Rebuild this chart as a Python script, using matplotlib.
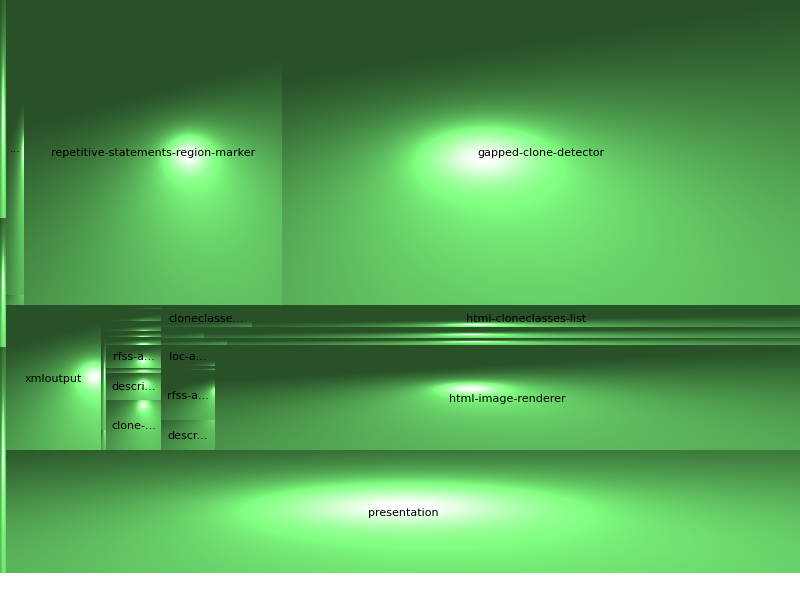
import matplotlib

matplotlib.use("Agg")

import matplotlib.pyplot as plt
import numpy as np


CANVAS_W, CANVAS_H = 800, 600
MAP_W, MAP_H = 800, 573

# leaf sizes per package
side_sizes = [1308, 774, 1356]

marker_labels = ["...", ""]
marker_sizes = [5310, 180]
rsrm_size = 78690
gcd_size = 157990

xml_size = 13775
xml_side_sizes = [625, 100]

col3_labels = ["", "", "", "", "", "rfss-a...", "", "descri...", "clone-..."]
col3_sizes = [220, 660, 550, 330, 440, 1265, 275, 1485, 2750]

cl_row0_size = 2556
cl_row1_labels = ["cloneclasse...", "html-cloneclasses-list"]
cl_row1_sizes = [1638, 9864]
cl_row2_sizes = [473, 6556]
cl_row3_sizes = [462, 4011]

lower_labels = ["loc-a...", "", "rfss-a...", "descr..."]
lower_sizes = [1134, 216, 2700, 1620]
renderer_size = 61425

presentation_size = 97662

# cushion shading: diffuse light from lower right, highlight where the cushion is flat
RIDGE_H = 0.35
TOP_RIDGE_H = 0.02
LIGHT = np.array([0.15, 0.5, 1.0])
LIGHT = LIGHT / np.linalg.norm(LIGHT)
AMBIENT = 0.4
DIFFUSE = 0.85
SPECULAR = 1.35
SPEC_POW = 10
BASE = np.array([0.4, 0.8, 0.4])


def leaf(label, size):
    return {"label": label, "size": size}


def group(split, children):
    return {"split": split, "children": children}


def build_tree():
    side = group("v", [leaf("", s) for s in side_sizes])
    marker_col = group("v", [leaf(l, s) for l, s in zip(marker_labels, marker_sizes)])
    rsrm = group("h", [marker_col, leaf("repetitive-statements-region-marker", rsrm_size)])
    top = group("h", [rsrm, leaf("gapped-clone-detector", gcd_size)])

    xml_side = group("v", [leaf("", s) for s in xml_side_sizes])
    col3 = group("v", [leaf(l, s) for l, s in zip(col3_labels, col3_sizes)])
    cl = group("v", [
        leaf("", cl_row0_size),
        group("h", [leaf(l, s) for l, s in zip(cl_row1_labels, cl_row1_sizes)]),
        group("h", [leaf("", s) for s in cl_row2_sizes]),
        group("h", [leaf("", s) for s in cl_row3_sizes]),
    ])
    lower_col = group("v", [leaf(l, s) for l, s in zip(lower_labels, lower_sizes)])
    lower = group("h", [lower_col, leaf("html-image-renderer", renderer_size)])
    rest = group("v", [cl, lower])
    middle = group("h", [leaf("xmloutput", xml_size), xml_side, col3, rest])

    main = group("v", [top, middle, leaf("presentation", presentation_size)])
    return group("h", [side, main])


def total(node):
    if "children" in node:
        node["size"] = sum(total(c) for c in node["children"])
    return node["size"]


def add_ridge(x1, x2, h, s1, s2):
    s1 += 4 * h * (x2 + x1) / (x2 - x1)
    s2 -= 4 * h / (x2 - x1)
    return s1, s2


def shade(nx, ny):
    norm = np.sqrt(nx ** 2 + ny ** 2 + 1)
    diff = np.clip((nx * LIGHT[0] + ny * LIGHT[1] + LIGHT[2]) / norm, 0, 1)
    spec = (1 / norm) ** SPEC_POW
    inten = AMBIENT + DIFFUSE * diff + SPECULAR * spec
    return np.clip(inten[..., None] * BASE, 0, 1)


def render(node, rect, depth, surf, img, labels):
    x0, y0, x1, y1 = rect
    h = RIDGE_H if depth >= 2 else TOP_RIDGE_H
    s1x, s2x = add_ridge(x0, x1, h, surf[0], surf[1])
    s1y, s2y = add_ridge(y0, y1, h, surf[2], surf[3])
    surf = (s1x, s2x, s1y, s2y)

    if "children" not in node:
        ix0, ix1 = int(round(x0)), int(round(x1))
        iy0, iy1 = int(round(y0)), int(round(y1))
        if ix1 <= ix0 or iy1 <= iy0:
            return
        xs = np.arange(ix0, ix1) + 0.5
        ys = np.arange(iy0, iy1) + 0.5
        X, Y = np.meshgrid(xs, ys)
        nx = -(2 * s2x * X + s1x)
        ny = -(2 * s2y * Y + s1y)
        img[iy0:iy1, ix0:ix1] = shade(nx, ny)
        if node["label"]:
            labels.append((node["label"], (x0 + x1) / 2, (y0 + y1) / 2))
        return

    horizontal = node["split"] == "h"
    span = (x1 - x0) if horizontal else (y1 - y0)
    pos = x0 if horizontal else y0
    for child in node["children"]:
        step = span * child["size"] / node["size"]
        if horizontal:
            crect = (pos, y0, pos + step, y1)
        else:
            crect = (x0, pos, x1, pos + step)
        render(child, crect, depth + 1, surf, img, labels)
        pos += step


def main():
    tree = build_tree()
    total(tree)

    img = np.ones((MAP_H, MAP_W, 3))
    labels = []
    render(tree, (0, 0, MAP_W, MAP_H), 0, (0.0, 0.0, 0.0, 0.0), img, labels)

    fig = plt.figure(figsize=(CANVAS_W / 100, CANVAS_H / 100), dpi=100)
    ax = fig.add_axes([0, 0, 1, 1])
    ax.imshow(img, extent=(0, MAP_W, MAP_H, 0), interpolation="nearest")
    ax.set_xlim(0, CANVAS_W)
    ax.set_ylim(CANVAS_H, 0)
    ax.axis("off")

    for text, cx, cy in labels:
        ax.text(cx, cy + 1, text, ha="center", va="center", fontsize=8, color="black")

    fig.savefig("out.png", dpi=100, facecolor="white")
    plt.close(fig)


if __name__ == "__main__":
    main()
